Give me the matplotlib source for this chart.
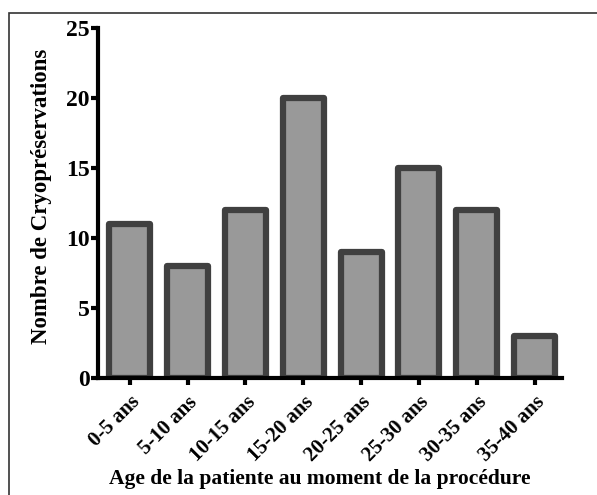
import matplotlib.pyplot as plt
from matplotlib.patches import Rectangle

categories = ['0-5 ans', '5-10 ans', '10-15 ans', '15-20 ans',
              '20-25 ans', '25-30 ans', '30-35 ans', '35-40 ans']
values = [11, 8, 12, 20, 9, 15, 12, 3]
yticks = [0, 5, 10, 15, 20, 25]

plt.rcParams['font.family'] = ['Liberation Serif', 'DejaVu Serif']
plt.rcParams['font.weight'] = 'bold'

fig = plt.figure(figsize=(5.97, 4.95), dpi=100)
ax = fig.add_axes([0.164, 0.236, 0.777, 0.707])

x = list(range(len(categories)))
ax.bar(x, values, width=0.71, color='#999999', edgecolor='#404040',
       linewidth=4.5, joinstyle='round', zorder=2)

ax.set_xlim(-0.55, 7.47)
ax.set_ylim(0, 25)
ax.set_yticks(yticks)
ax.set_xticks(x)
ax.set_xticklabels(categories, rotation=45, ha='right', rotation_mode='anchor',
                   fontsize=15, fontweight='bold')
ax.tick_params(axis='y', labelsize=17, width=3, length=5, pad=1)
ax.tick_params(axis='x', width=3, length=5, pad=5)
for lab in ax.get_yticklabels():
    lab.set_fontweight('bold')

for s in ['top', 'right']:
    ax.spines[s].set_visible(False)
for s in ['left', 'bottom']:
    ax.spines[s].set_linewidth(3)
    ax.spines[s].set_zorder(3)

ax.set_ylabel('Nombre de Cryopréservations', fontsize=16.5, fontweight='bold')
ax.yaxis.set_label_coords(-0.1, 0.52)
fig.text(0.535, 0.012, 'Age de la patiente au moment de la procédure',
         ha='center', va='bottom', fontsize=15.5, fontweight='bold')

fig.patches.append(Rectangle((9 / 597, -0.1), 1.2, 1.1 - 12.5 / 495,
                             transform=fig.transFigure, fill=False,
                             edgecolor='#333333', linewidth=1.2))

fig.savefig('out.png', dpi=100)
